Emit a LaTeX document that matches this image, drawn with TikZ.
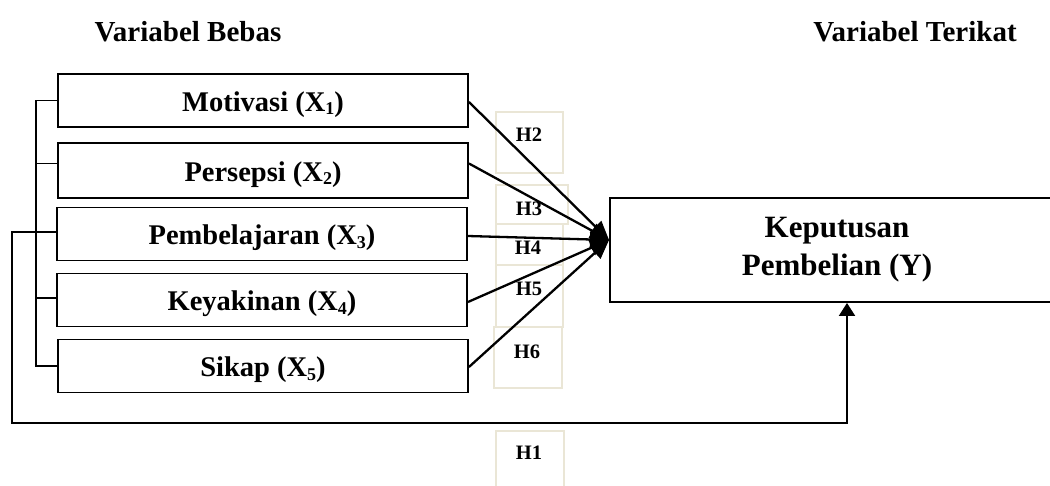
\documentclass[tikz,border=0pt]{standalone}
\usepackage{fontspec}
\setmainfont{Liberation Serif}
\usetikzlibrary{arrows.meta,calc}
\definecolor{faint}{RGB}{234,230,214}
\newcommand{\xsb}[1]{\raisebox{-0.3ex}{\fontsize{18}{18}\selectfont #1}}
\tikzset{
  varbox/.style={draw, line width=1.9pt, minimum width=410pt, minimum height=53pt, inner sep=0pt,
    text height=23pt, text depth=2pt,
    font=\fontsize{28.5}{30}\selectfont\bfseries},
  ybox/.style={draw, line width=1.9pt, minimum width=454pt, minimum height=104pt, inner sep=0pt, align=center,
    font=\fontsize{31}{38}\selectfont\bfseries},
  hdr/.style={font=\fontsize{29}{30}\selectfont\bfseries},
  hlab/.style={font=\fontsize{20.5}{22}\selectfont\bfseries, inner sep=0pt},
  hbox/.style={draw=faint, line width=1.2pt},
  conn/.style={line width=2.3pt, -{Triangle[length=19pt,width=16pt]}},
  brk/.style={line width=1.8pt},
  uparr/.style={line width=2.1pt, -{Triangle[length=13pt,width=16pt]}}
}
\begin{document}
\begin{tikzpicture}[x=1pt,y=-1pt]
\useasboundingbox (0,0) rectangle (1050,485);
\clip (0,0) rectangle (1050,485);
% headers
\node[hdr] (hb) at (188,32) {Variabel Bebas};
\node[hdr] (ht) at (915,32) {Variabel Terikat};
% faint boxes
\draw[hbox] (496,112) rectangle (563,173);
\draw[hbox] (496,185) rectangle (568,224);
\draw[hbox] (496,224) rectangle (563,265);
\draw[hbox] (496,265) rectangle (563,327);
\draw[hbox] (494,327) rectangle (562,388);
\draw[hbox] (496,431) rectangle (564,490);
% H labels
\node[hlab] (h2) at (529,135) {H2};
\node[hlab] (h3) at (529,209) {H3};
\node[hlab] (h4) at (528,248) {H4};
\node[hlab] (h5) at (529,289) {H5};
\node[hlab] (h6) at (527,352) {H6};
\node[hlab] (h1) at (529,453) {H1};
% variable boxes
\node[varbox] (x1) at (263,100.5) {Motivasi (X\xsb{1})};
\node[varbox, minimum height=55pt] (x2) at (263,170.5) {Persepsi (X\xsb{2})};
\node[varbox] (x3) at (262,234) {Pembelajaran (X\xsb{3})};
\node[varbox] (x4) at (262,300) {Keyakinan (X\xsb{4})};
\node[varbox] (x5) at (263,366) {Sikap (X\xsb{5})};
\node[ybox] (y) at (837,250) {Keputusan\\Pembelian (Y)};
% bracket
\coordinate (bl) at (36,0);
\coordinate (ol) at (12,423);
\draw[brk] (x1.west) -- (x1.west -| bl) -- (x5.west -| bl) -- (x5.west);
\draw[brk] ([yshift=7pt]x2.west) -- ([yshift=7pt]x2.west -| bl);
\draw[brk] ([yshift=2pt]x3.west) -- ([yshift=2pt]x3.west -| bl);
\draw[brk] ([yshift=2pt]x4.west) -- ([yshift=2pt]x4.west -| bl);
% outer line to Y
\draw[uparr] ([yshift=2pt]x3.west -| bl) -| (ol) -| ([xshift=10pt]y.south);
% arrows
\coordinate (tip) at ([yshift=10pt]y.west);
\draw[conn] ([yshift=-1.5pt]x1.east) -- (tip);
\draw[conn] ([yshift=7pt]x2.east) -- (tip);
\draw[conn] ([yshift=-2pt]x3.east) -- (tip);
\draw[conn] ([yshift=-2pt]x4.east) -- (tip);
\draw[conn] ([yshift=-1pt]x5.east) -- (tip);
\end{tikzpicture}
\end{document}
